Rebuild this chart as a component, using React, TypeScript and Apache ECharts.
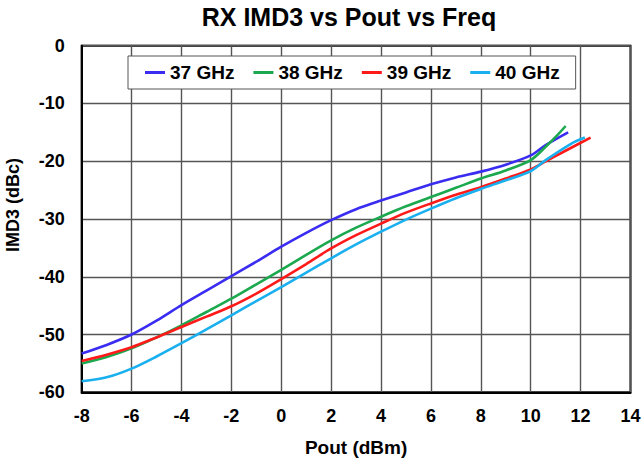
import React, { useEffect, useRef } from "react";
import * as echarts from "echarts";

const seriesNames = ["37 GHz", "38 GHz", "39 GHz", "40 GHz"];
const colors = ["#3A2CF0", "#1BA84E", "#FF1A1A", "#1AB0F0"];

const pout37 = [-8, -7, -6, -5, -4, -3, -2, -1, 0, 1, 2, 3, 4, 5, 6, 7, 8, 9, 10, 10.6, 11.5];
const imd37 = [-53.3, -51.8, -50.0, -47.6, -44.9, -42.4, -39.9, -37.4, -34.8, -32.4, -30.2, -28.3, -26.8, -25.4, -24.0, -22.8, -21.8, -20.6, -19.0, -17.2, -15.0];

const pout38 = [-8, -7, -6, -5, -4, -3, -2, -1, 0, 1, 2, 3, 4, 5, 6, 7, 8, 9, 10, 10.6, 11.0, 11.4];
const imd38 = [-55.0, -53.9, -52.4, -50.5, -48.4, -46.1, -43.8, -41.3, -38.8, -36.2, -33.7, -31.5, -29.6, -27.8, -26.2, -24.6, -23.0, -21.6, -19.8, -17.5, -15.8, -13.9];

const pout39 = [-8, -7, -6, -5, -4, -3, -2, -1, 0, 1, 2, 3, 4, 5, 6, 7, 8, 9, 10, 10.6, 11.3, 12.4];
const imd39 = [-54.6, -53.5, -52.2, -50.5, -48.7, -46.9, -45.1, -42.9, -40.4, -37.8, -35.1, -32.8, -30.8, -28.9, -27.3, -25.8, -24.5, -23.0, -21.4, -20.0, -18.4, -15.9];

const pout40 = [-8, -7, -6, -5, -4, -3, -2, -1, 0, 1, 2, 3, 4, 5, 6, 7, 8, 9, 10, 10.6, 11.65, 12.17];
const imd40 = [-58.1, -57.4, -55.9, -53.8, -51.5, -49.1, -46.7, -44.2, -41.8, -39.3, -36.8, -34.4, -32.2, -30.1, -28.2, -26.4, -24.8, -23.3, -21.7, -19.8, -16.9, -15.9];

const xValues = [pout37, pout38, pout39, pout40];
const yValues = [imd37, imd38, imd39, imd40];

const FONT = "'Liberation Sans', Arial, Helvetica, sans-serif";

export default function App() {
  const ref = useRef<HTMLDivElement>(null);
  useEffect(() => {
    if (!ref.current) return;
    const chart = echarts.init(ref.current, undefined, { renderer: "svg" });
    const series = seriesNames.map((name, i) => ({
      name,
      type: "line",
      smooth: 0.3,
      symbol: "none",
      showSymbol: false,
      lineStyle: { color: colors[i], width: 2.6 },
      itemStyle: { color: colors[i] },
      data: xValues[i].map((x, j) => [x, yValues[i][j]]),
    }));
    chart.setOption({
      animation: false,
      backgroundColor: "#ffffff",
      title: {
        text: "RX IMD3 vs Pout vs Freq",
        left: 349,
        top: 4,
        textAlign: "center",
        padding: 0,
        textStyle: { fontFamily: FONT, fontWeight: "bold", fontSize: 25, color: "#000" },
      },
      legend: {
        data: seriesNames.map((n) => ({ name: n, icon: "rect" })),
        left: 128,
        top: 56,
        orient: "horizontal",
        itemWidth: 20,
        itemHeight: 3,
        itemGap: 19,
        padding: [7, 16, 7, 17],
        borderColor: "#555555",
        borderWidth: 1,
        backgroundColor: "#ffffff",
        textStyle: { fontFamily: FONT, fontWeight: "bold", fontSize: 19, color: "#000" },
      },
      grid: {
        left: 81.7,
        right: 11.5,
        top: 45.7,
        bottom: 67.7,
        show: true,
        borderColor: "#000",
        borderWidth: 2,
        backgroundColor: "transparent",
        containLabel: false,
        outerBoundsMode: "none",
      },
      xAxis: {
        type: "value",
        min: -8,
        max: 14,
        interval: 2,
        name: "Pout (dBm)",
        nameLocation: "middle",
        nameGap: 46,
        nameTextStyle: { fontFamily: FONT, fontWeight: "bold", fontSize: 19, color: "#000" },
        axisLine: { show: true, onZero: false, lineStyle: { color: "#000", width: 2 } },
        axisTick: { show: false },
        axisLabel: { margin: 15, fontFamily: FONT, fontWeight: "bold", fontSize: 18, color: "#000" },
        splitLine: { show: true, lineStyle: { color: "#555555", width: 1.4 } },
      },
      yAxis: {
        type: "value",
        min: -60,
        max: 0,
        interval: 10,
        axisLine: { show: true, onZero: false, lineStyle: { color: "#000", width: 2 } },
        axisTick: { show: false },
        axisLabel: { margin: 17, fontFamily: FONT, fontWeight: "bold", fontSize: 18, color: "#000" },
        splitLine: { show: true, lineStyle: { color: "#555555", width: 1.4 } },
      },
      graphic: [
        {
          type: "text",
          x: 13,
          y: 205,
          rotation: Math.PI / 2,
          style: {
            text: "IMD3 (dBc)",
            align: "center",
            verticalAlign: "middle",
            textAlign: "center",
            textVerticalAlign: "middle",
            fontFamily: FONT,
            fontWeight: "bold",
            fontSize: 18,
            fill: "#000",
          },
        },
      ],
      series,
    });
    return () => chart.dispose();
  }, []);
  return (
    <div
      ref={ref}
      style={{ position: "fixed", left: 0, top: 0, width: 642, height: 460, background: "#fff" }}
    />
  );
}
